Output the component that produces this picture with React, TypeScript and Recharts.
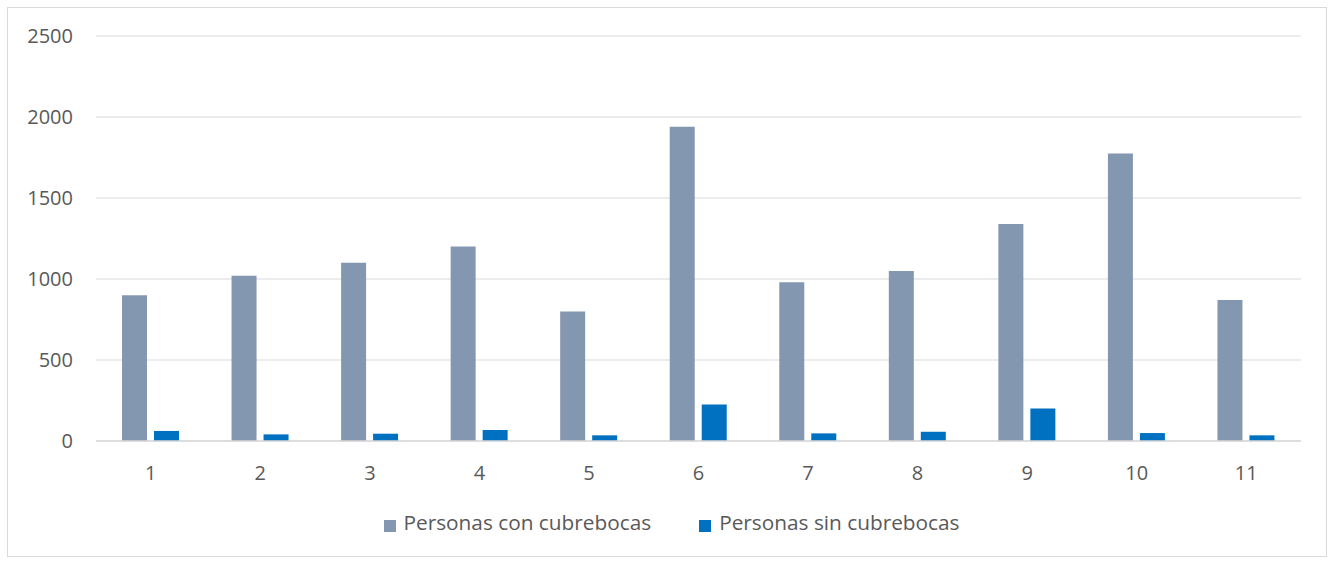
import { BarChart, Bar, XAxis, YAxis, CartesianGrid, Legend } from "recharts";

// Values
const groups = ["1", "2", "3", "4", "5", "6", "7", "8", "9", "10", "11"];
const conCubrebocas = [900, 1020, 1100, 1200, 800, 1940, 980, 1050, 1340, 1775, 870];
const sinCubrebocas = [62, 41, 45, 68, 35, 226, 47, 57, 200, 49, 35];
const yTicks = [0, 500, 1000, 1500, 2000, 2500];

const GRAY = "#8497B0";
const BLUE = "#0070C0";
const TEXT = "#595959";
const FONT = "'Open Sans', sans-serif";

const data = groups.map((g, i) => ({
  name: g,
  con: conCubrebocas[i],
  sin: sinCubrebocas[i],
}));

export default function App() {
  return (
    <div
      style={{
        position: "absolute",
        left: 7,
        top: 7,
        width: 1318,
        height: 548,
        border: "1px solid #d9d9d9",
        background: "#fff",
        fontFamily: FONT,
      }}
    >
      <BarChart
        width={1318}
        height={548}
        data={data}
        margin={{ top: 28, right: 25, left: 0, bottom: 20 }}
        barGap={7}
        barSize={25}
      >
        <CartesianGrid vertical={false} stroke="#d9d9d9" />
        <XAxis
          dataKey="name"
          axisLine={{ stroke: "#d9d9d9", strokeWidth: 1.5 }}
          tickLine={false}
          tickSize={0}
          tickMargin={25}
          height={67}
          tick={{ fontSize: 20, fill: TEXT, fontFamily: FONT }}
        />
        <YAxis
          domain={[0, 2500]}
          ticks={yTicks}
          axisLine={false}
          tickLine={false}
          tickSize={0}
          tickMargin={23}
          width={88}
          tick={{ fontSize: 20, fill: TEXT, fontFamily: FONT }}
        />
        <Legend
          verticalAlign="bottom"
          iconType="square"
          iconSize={12}
          wrapperStyle={{ paddingLeft: 22 }}
          formatter={(v, _e, i) => (
            <span
              style={{
                color: TEXT,
                fontSize: 20.8,
                fontFamily: FONT,
                paddingLeft: 4,
                marginRight: i === 0 ? 38 : 0,
              }}
            >
              {v}
            </span>
          )}
        />
        <Bar dataKey="con" name="Personas con cubrebocas" fill={GRAY} isAnimationActive={false} />
        <Bar dataKey="sin" name="Personas sin cubrebocas" fill={BLUE} isAnimationActive={false} />
      </BarChart>
    </div>
  );
}
